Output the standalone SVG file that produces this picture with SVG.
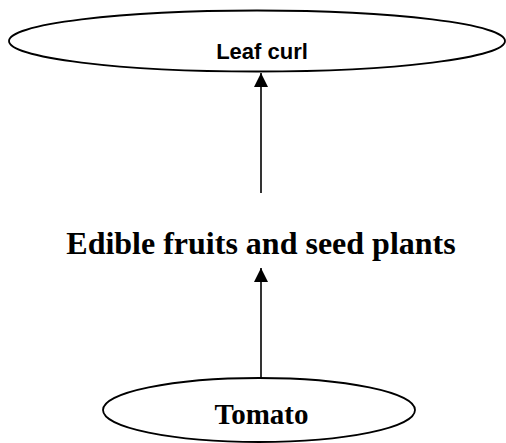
<svg xmlns="http://www.w3.org/2000/svg" width="506" height="443" viewBox="0 0 506 443">
<defs>
<style>
.node ellipse{fill:#fff;stroke:#000;stroke-width:1.8}
.conn line{stroke:#000;stroke-width:1.6}
.ah{fill:#000}
.sans{font-family:"Liberation Sans",Arial,sans-serif;font-weight:bold;text-anchor:middle}
.serif{font-family:"Liberation Serif","Times New Roman",serif;font-weight:bold;text-anchor:middle}
</style>
<marker id="arr" markerWidth="14" markerHeight="14" viewBox="0 0 14 14" refX="14" refY="7" orient="auto" markerUnits="userSpaceOnUse">
<path class="ah" d="M0,0 L14,7 L0,14 Z"/>
</marker>
</defs>
<rect width="506" height="443" fill="#fff"/>
<g id="connectors" class="conn">
<line x1="261" y1="193" x2="261" y2="73" marker-end="url(#arr)"/>
<line x1="261" y1="378" x2="261" y2="268" marker-end="url(#arr)"/>
</g>
<g id="leaf-curl" class="node">
<ellipse cx="257" cy="41" rx="248" ry="30.5"/>
<text class="sans" x="262" y="59" font-size="22">Leaf curl</text>
</g>
<g id="edible">
<text class="serif" x="261" y="254" font-size="32">Edible fruits and seed plants</text>
</g>
<g id="tomato" class="node">
<ellipse cx="259" cy="410" rx="156" ry="32"/>
<text class="serif" x="261.5" y="424" font-size="29">Tomato</text>
</g>
</svg>
